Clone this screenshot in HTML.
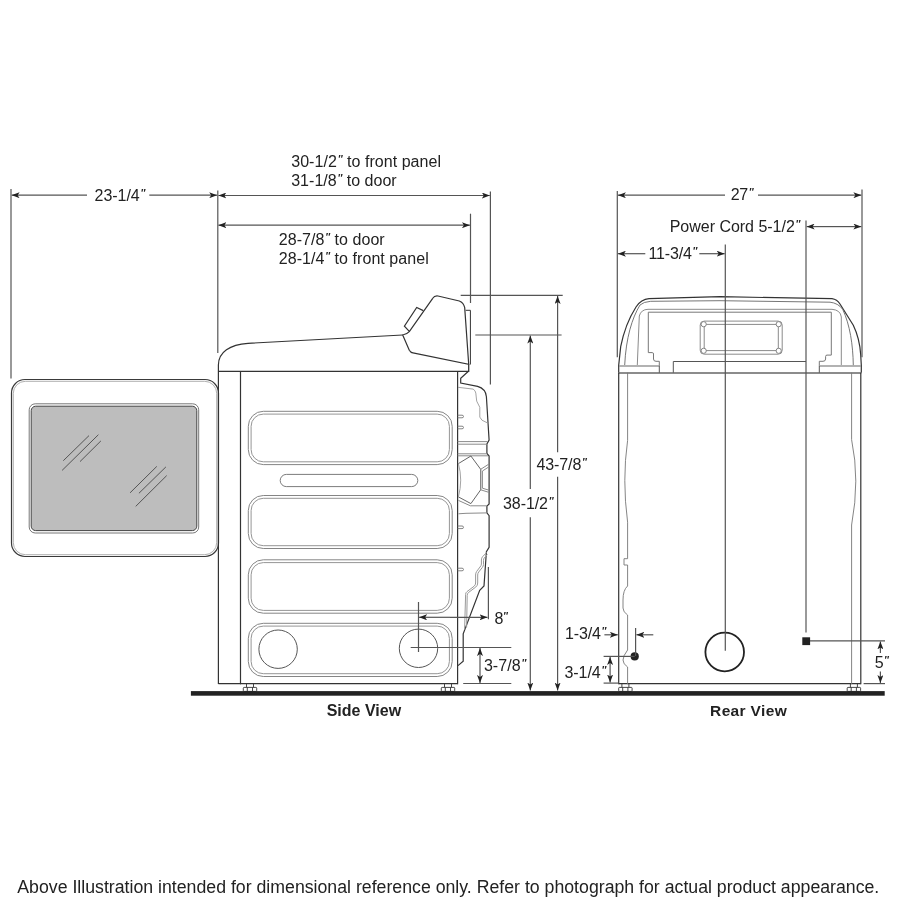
<!DOCTYPE html>
<html><head><meta charset="utf-8"><style>
html,body{margin:0;padding:0;background:#fff;width:900px;height:900px;overflow:hidden}
svg{display:block;will-change:transform}
text{font-family:"Liberation Sans",sans-serif;fill:#222}
.o{fill:none;stroke:#333;stroke-width:1.2}
.d{fill:none;stroke:#555;stroke-width:1.2}
.p{fill:none;stroke:#8a8a8a;stroke-width:1}
.g{fill:none;stroke:#999;stroke-width:0.9}
.ah{fill:#222;stroke:none}
</style></head><body>
<svg width="900" height="900" viewBox="0 0 900 900">
<defs>
<marker id="ar" viewBox="0 0 8 6" refX="8" refY="3" markerWidth="8" markerHeight="6" markerUnits="userSpaceOnUse" orient="auto-start-reverse">
<path d="M0,0 L8,3 L0,6 L2,3 Z" fill="#222"/>
</marker>
</defs>

<!-- ===== LEFT DOOR ===== -->
<rect style="stroke:#3a3a3a;stroke-width:1.2" x="11.5" y="379.5" width="207" height="177" rx="13.5" class="o"/>
<rect x="13.3" y="381.3" width="203.4" height="173.4" rx="12" fill="none" stroke="#9a9a9a" stroke-width="0.8"/>
<rect x="29.2" y="403.8" width="169.5" height="129.2" rx="6" fill="none" stroke="#777" stroke-width="1"/>
<rect x="31.2" y="406.2" width="165.6" height="124.4" rx="4.5" fill="#bdbdbd" stroke="#444" stroke-width="1"/>
<g stroke="#555" stroke-width="1">
<line x1="63.3" y1="460.7" x2="89" y2="435.6"/>
<line x1="62.1" y1="470.4" x2="98.4" y2="434.7"/>
<line x1="80" y1="461.6" x2="100.9" y2="440.9"/>
<line x1="130.1" y1="492.8" x2="156.8" y2="466.4"/>
<line x1="138.9" y1="493.3" x2="165.9" y2="466.9"/>
<line x1="135.7" y1="506.4" x2="166.7" y2="475.6"/>
</g>

<!-- ===== SIDE VIEW BODY ===== -->
<path class="o" d="M218.4,684 L218.4,365 C218.4,352 230,344.5 248,343.3 L402.7,335"/>
<path class="o" d="M402.7,335 L409.3,350.3 Q410.5,352.6 413,352.8 L468.7,364.3 L464.7,307.7 Q463.5,302.5 459.3,301 L438,296 Q434.5,295.5 432.7,298.3 L409.3,331.7 Q406.5,334.6 402.7,335 Z"/>
<path class="o" d="M409.3,331.4 L404.4,326.1 L416.7,307.4 L423.3,310.6"/>
<path style="stroke-width:1" class="o" d="M465.7,310.3 L470.4,310.3 L470.4,364.5"/>
<path style="stroke-width:1.3" class="o" d="M218.4,371.3 L468.7,371.3 L468.7,364.3"/>
<path class="o" d="M468.7,371 L460.7,378.3 L460.7,383 L477.6,386.4 C483,388 486,392 486.4,396.7 L489.1,440 L486.9,444 L486.9,453.3 L489.1,456 L489.1,504 L486.9,506.2 L486.9,512.9 L489.1,515.6 L489.1,547.3 L486.4,551.8 L484,586 L479.7,590.4 L463.2,633.8 L463.2,661.3 L458,665.6"/>
<line class="o" x1="457.6" y1="371" x2="457.6" y2="684.2"/>
<line class="o" x1="240.5" y1="371" x2="240.5" y2="684.2"/>
<line class="o" x1="218.4" y1="683.6" x2="457.6" y2="683.6"/>
<path class="g" d="M458,387.3 L473.1,389.1 Q475.5,390.5 475.8,393.1 L476.7,401.1 L479.8,407.3 L479.8,417.1 L482,420.2 L488.2,423.3"/>
<path fill="none" stroke="#777" stroke-width="0.9" d="M457.6,415.2 L462,415.2 Q463.5,415.2 463.5,416.5 Q463.5,417.8 462,417.8 L457.6,417.8 M457.6,426.2 L462,426.2 Q463.5,426.2 463.5,427.5 Q463.5,428.8 462,428.8 L457.6,428.8 M457.6,526.0 L462,526.0 Q463.5,526.0 463.5,527.3 Q463.5,528.6 462,528.6 L457.6,528.6 M457.6,568.2 L462,568.2 Q463.5,568.2 463.5,569.5 Q463.5,570.8 462,570.8 L457.6,570.8"/>
<g class="p">
<line x1="457.6" y1="441.6" x2="487.5" y2="441.6"/>
<line x1="457.6" y1="444.2" x2="487" y2="444.2"/>
<line x1="457.6" y1="453.8" x2="487" y2="453.8"/>
<line x1="457.6" y1="455.8" x2="488" y2="455.8"/>
</g>
<path style="stroke:#555" class="g" d="M458.4,463.6 L470.9,456 L480.7,469.3 L480.7,489.8 L470.9,503.6 L458.4,496.9"/>
<path class="g" d="M458.4,463.6 Q463,480 458.4,496.9"/>
<path class="p" d="M489,464 L480.7,469.3 L480.7,489.8 L489,492.4 M489,466.8 L482.4,471 L482.4,488.2 L489,490.2"/>
<path class="p" d="M458.4,500.4 L470.4,505.8 L486.9,505.8 M458.4,513.8 L466,513.3 L486.9,512.9"/>
<path style="stroke:#999" class="p" d="M486.7,552.4 L482.5,556.8 Q481.4,558 481.4,560 L481.4,564 Q481.4,565.5 480,567 L476.6,571.5 Q475.6,573 475.6,575 L475.6,583 Q475.6,585 474,586.3 L467,591.6 Q465.6,592.6 465.6,594.5 L464.6,629.5 M487.5,554.5 L484.3,557.8 Q483.5,558.8 483.5,560.5 L483.5,564.5 Q483.5,566 482.3,567.5 L478.7,572 Q477.7,573.2 477.7,575 L477.7,583 Q477.7,585.5 475.8,587 L468.4,592.6 Q467.2,593.6 467.2,595.5 L466.6,627.5"/>

<!-- panels -->
<g fill="none" stroke-width="1"><rect x="248.3" y="411.3" width="203.9" height="53.3" rx="15" stroke="#858585"/><rect x="251.1" y="414.1" width="198.3" height="47.7" rx="12.2" stroke="#959595"/><rect x="248.3" y="495.5" width="203.9" height="53.0" rx="15" stroke="#858585"/><rect x="251.1" y="498.3" width="198.3" height="47.4" rx="12.2" stroke="#959595"/><rect x="248.3" y="559.8" width="203.9" height="53.4" rx="15" stroke="#858585"/><rect x="251.1" y="562.6" width="198.3" height="47.8" rx="12.2" stroke="#959595"/><rect x="248.3" y="623.3" width="203.9" height="53.2" rx="15" stroke="#858585"/><rect x="251.1" y="626.1" width="198.3" height="47.6" rx="12.2" stroke="#959595"/><rect x="280.2" y="474.4" width="137.6" height="12.2" rx="6.1" stroke="#7c7c7c"/></g>
<circle cx="278.1" cy="649.2" r="19.2" fill="none" stroke="#555" stroke-width="1"/>
<circle cx="418.5" cy="648.3" r="19.2" fill="none" stroke="#555" stroke-width="1"/>
<!-- feet -->
<g fill="none" stroke="#333" stroke-width="0.9"><path d="M246.5,684 L246.5,687.4 M253.5,684 L253.5,687.4"/><rect x="243.3" y="687.4" width="13.4" height="4" rx="0.8" fill="#fff"/><path d="M247.3,687.4 L247.3,691 M252.5,687.4 L252.5,691"/><path d="M444.5,684 L444.5,687.4 M451.5,684 L451.5,687.4"/><rect x="441.3" y="687.4" width="13.4" height="4" rx="0.8" fill="#fff"/><path d="M445.3,687.4 L445.3,691 M450.5,687.4 L450.5,691"/><path d="M621.9,684 L621.9,687.4 M628.9,684 L628.9,687.4"/><rect x="618.7" y="687.4" width="13.4" height="4" rx="0.8" fill="#fff"/><path d="M622.7,687.4 L622.7,691 M627.9,687.4 L627.9,691"/><path d="M850.4,684 L850.4,687.4 M857.4,684 L857.4,687.4"/><rect x="847.2" y="687.4" width="13.4" height="4" rx="0.8" fill="#fff"/><path d="M851.2,687.4 L851.2,691 M856.4,687.4 L856.4,691"/></g>

<!-- ground -->
<rect x="190.9" y="691.1" width="693.8" height="4.6" fill="#222"/>

<!-- ===== REAR VIEW ===== -->
<path class="o" d="M618.7,372.7 L618.7,365.3 L620.7,346.7 C624,330 629,318 636,307 C640,301 644,299 649,298.7 L720,296.7 L832,298.7 C836,299.3 838,301 840,304 L853.3,325.3 C857.5,334 860,344 860.7,354.7 L861.3,365.3 L861.3,372.7"/>
<path style="stroke:#666" class="g" d="M624.7,365 C626,338 632,318 640,305 Q643.5,301.8 650.7,301.3 L720,300.7 L830,302.2 Q838,303 842.7,309.3 C850,325 853,345 853.3,365.3"/>
<path class="p" d="M637.3,365 L639.3,316 Q641,309.5 648,309.3 L832,309.3 Q840.5,310 841.3,317 L841.3,365"/>
<path style="stroke:#777" class="p" d="M659.3,366 L659.3,361.3 L656,361.3 Q653.5,361.3 653.5,359 L653.5,354 Q653.5,352.6 652.3,352.6 L648.3,352.6 L648.3,312.2 L831.3,312.2 L831.3,355.1 L827,355.1 Q825.6,355.1 825.6,356.5 L825.6,359 Q825.6,361.3 823,361.3 L819.3,361.3 L819.3,366"/>
<path fill="none" stroke="#999" stroke-width="1.6" d="M619,366 L659.3,366 M819.3,366 L861,366"/><path fill="none" stroke="#555" stroke-width="1" d="M659.3,366 L659.3,373 M819.3,373 L819.3,366 M673.3,373 L673.3,361.5 L806,361.5"/>
<line fill="none" stroke="#666" stroke-width="1.5" x1="618.7" y1="373" x2="861.3" y2="373"/>
<line class="o" x1="618.7" y1="372.7" x2="618.7" y2="684.2"/>
<line class="o" x1="860.8" y1="372.7" x2="860.8" y2="684.2"/>
<line class="o" x1="618.7" y1="683.6" x2="860.8" y2="683.6"/>
<path style="stroke:#777" class="g" d="M627.6,372.7 L627.6,440.4 Q622,480 627.6,522.2 L627.6,558.7 L624,558.7 L624,565 L627.6,565 L627.6,586 Q623,590 623,600 L623,608 Q623,612 627.6,615 L627.6,650 Q623,656 623,660 Q623,664 627.6,667 L627.6,684.2"/>
<path style="stroke:#777" class="g" d="M851.6,372.7 L851.6,439.6 Q860,480 851.6,525 L851.6,684.2"/>
<!-- handle -->
<rect x="700.2" y="321.1" width="82" height="33.1" rx="4" class="p"/>
<rect x="704.2" y="324.4" width="74.1" height="26.2" class="p"/>
<g fill="#fff" stroke="#777" stroke-width="0.9">
<circle cx="703.7" cy="324.2" r="2.6"/><circle cx="778.7" cy="324.2" r="2.6"/>
<circle cx="703.7" cy="350.8" r="2.6"/><circle cx="778.7" cy="350.8" r="2.6"/>
</g>
<circle cx="724.7" cy="652" r="19.3" fill="none" stroke="#222" stroke-width="1.8"/>
<circle cx="634.7" cy="656.4" r="4.1" fill="#222"/>
<rect x="802.3" y="637.3" width="7.8" height="7.8" fill="#222"/>

<!-- ===== DIMENSIONS ===== -->
<g class="d">
<line x1="11" y1="189" x2="11" y2="378.4"/>
<line x1="217.8" y1="190.6" x2="217.8" y2="353"/>
<line x1="490.4" y1="191.6" x2="490.4" y2="384.4"/>
<line x1="470.5" y1="213.7" x2="470.5" y2="303"/>
<line x1="460.7" y1="295.4" x2="562.7" y2="295.4"/>
<line x1="475.3" y1="335" x2="561.6" y2="335"/>
<line x1="418.5" y1="602" x2="418.5" y2="652"/>
<line x1="488.4" y1="567" x2="488.4" y2="619.2"/>
<line x1="410.7" y1="647.5" x2="511.3" y2="647.5"/>
<line x1="463.2" y1="683.5" x2="511.3" y2="683.5"/>
<line x1="617.3" y1="191" x2="617.3" y2="357.3"/>
<line x1="862" y1="189.4" x2="862" y2="357.3"/>
<line x1="806" y1="220.6" x2="806" y2="632.4"/>
<line x1="725.3" y1="244.6" x2="725.3" y2="650.7"/>
<line x1="635.6" y1="628" x2="635.6" y2="656"/>
<line x1="603.6" y1="656.4" x2="634.7" y2="656.4"/>
<line x1="603.6" y1="683.1" x2="618.7" y2="683.1"/>
<line x1="810" y1="640.8" x2="885" y2="640.8"/>
<line x1="863.6" y1="683.6" x2="885" y2="683.6"/>
</g>
<g class="d" marker-end="url(#ar)">
<line x1="87" y1="195.2" x2="11.6" y2="195.2"/>
<line x1="149.3" y1="195.2" x2="217.2" y2="195.2"/>
<line x1="350" y1="195.5" x2="218.4" y2="195.5"/>
<line x1="350" y1="195.5" x2="489.8" y2="195.5"/>
<line x1="350" y1="225.2" x2="218.4" y2="225.2"/>
<line x1="350" y1="225.2" x2="469.9" y2="225.2"/>
<line x1="557.6" y1="452.2" x2="557.6" y2="296"/>
<line x1="557.6" y1="476.7" x2="557.6" y2="690.5"/>
<line x1="530.3" y1="488.9" x2="530.3" y2="335.6"/>
<line x1="530.3" y1="517.2" x2="530.3" y2="690.5"/>
<line x1="450" y1="617.3" x2="419.1" y2="617.3"/>
<line x1="450" y1="617.3" x2="487.5" y2="617.3"/>
<line x1="480" y1="665" x2="480" y2="648.1"/>
<line x1="480" y1="665" x2="480" y2="682.9"/>
<line x1="725" y1="195.2" x2="617.9" y2="195.2"/>
<line x1="758" y1="195.2" x2="861.4" y2="195.2"/>
<line x1="830" y1="226.6" x2="806.6" y2="226.6"/>
<line x1="830" y1="226.6" x2="861.4" y2="226.6"/>
<line x1="645.3" y1="253.7" x2="617.9" y2="253.7"/>
<line x1="699.3" y1="253.7" x2="724.7" y2="253.7"/>
<line x1="604.4" y1="634.8" x2="617.8" y2="634.8"/>
<line x1="653.3" y1="634.8" x2="636.4" y2="634.8"/>
<line x1="610.1" y1="670" x2="610.1" y2="657"/>
<line x1="610.1" y1="670" x2="610.1" y2="682.5"/>
<line x1="880.4" y1="652.9" x2="880.4" y2="641.4"/>
<line x1="880.4" y1="671.6" x2="880.4" y2="683"/>
</g>

<!-- ===== TEXT ===== -->
<text x="291.20" y="167.20" font-size="16" textLength="149.80" lengthAdjust="spacing">30-1/2<tspan font-weight="bold" font-style="italic" font-size="10" dx="0.8" baseline-shift="4">″</tspan> to front panel</text>
<text x="291.20" y="186.00" font-size="16" textLength="105.50" lengthAdjust="spacing">31-1/8<tspan font-weight="bold" font-style="italic" font-size="10" dx="0.8" baseline-shift="4">″</tspan> to door</text>
<text x="94.60" y="200.90" font-size="16" textLength="50.60" lengthAdjust="spacing">23-1/4<tspan font-weight="bold" font-style="italic" font-size="10" dx="0.8" baseline-shift="4">″</tspan></text>
<text x="278.80" y="245.20" font-size="16" textLength="105.90" lengthAdjust="spacing">28-7/8<tspan font-weight="bold" font-style="italic" font-size="10" dx="0.8" baseline-shift="4">″</tspan> to door</text>
<text x="278.80" y="264.30" font-size="16" textLength="149.90" lengthAdjust="spacing">28-1/4<tspan font-weight="bold" font-style="italic" font-size="10" dx="0.8" baseline-shift="4">″</tspan> to front panel</text>
<text x="536.40" y="469.70" font-size="16" textLength="50.40" lengthAdjust="spacing">43-7/8<tspan font-weight="bold" font-style="italic" font-size="10" dx="0.8" baseline-shift="4">″</tspan></text>
<text x="503.00" y="509.00" font-size="16" textLength="50.50" lengthAdjust="spacing">38-1/2<tspan font-weight="bold" font-style="italic" font-size="10" dx="0.8" baseline-shift="4">″</tspan></text>
<text x="494.60" y="624.00" font-size="16" textLength="13.30" lengthAdjust="spacing">8<tspan font-weight="bold" font-style="italic" font-size="10" dx="0.8" baseline-shift="4">″</tspan></text>
<text x="483.90" y="670.50" font-size="16" textLength="42.40" lengthAdjust="spacing">3-7/8<tspan font-weight="bold" font-style="italic" font-size="10" dx="0.8" baseline-shift="4">″</tspan></text>
<text x="730.70" y="200.20" font-size="16" textLength="22.90" lengthAdjust="spacing">27<tspan font-weight="bold" font-style="italic" font-size="10" dx="0.8" baseline-shift="4">″</tspan></text>
<text x="669.70" y="231.60" font-size="16" textLength="130.70" lengthAdjust="spacing">Power Cord 5-1/2<tspan font-weight="bold" font-style="italic" font-size="10" dx="0.8" baseline-shift="4">″</tspan></text>
<text x="648.60" y="258.80" font-size="16" textLength="48.60" lengthAdjust="spacing">11-3/4<tspan font-weight="bold" font-style="italic" font-size="10" dx="0.8" baseline-shift="4">″</tspan></text>
<text x="565.10" y="638.90" font-size="16" textLength="41.20" lengthAdjust="spacing">1-3/4<tspan font-weight="bold" font-style="italic" font-size="10" dx="0.8" baseline-shift="4">″</tspan></text>
<text x="564.40" y="677.70" font-size="16" textLength="41.90" lengthAdjust="spacing">3-1/4<tspan font-weight="bold" font-style="italic" font-size="10" dx="0.8" baseline-shift="4">″</tspan></text>
<text x="874.80" y="667.60" font-size="16" textLength="14.10" lengthAdjust="spacing">5<tspan font-weight="bold" font-style="italic" font-size="10" dx="0.8" baseline-shift="4">″</tspan></text>
<text x="326.70" y="715.80" font-size="16" font-weight="bold" textLength="74.40" lengthAdjust="spacing">Side View</text>
<text x="710.10" y="715.60" font-size="15.5" font-weight="bold" textLength="76.60" lengthAdjust="spacing">Rear View</text>
<text x="17.3" y="893" font-size="17.5" textLength="862" lengthAdjust="spacingAndGlyphs">Above Illustration intended for dimensional reference only. Refer to photograph for actual product appearance.</text>
</svg>
</body></html>
